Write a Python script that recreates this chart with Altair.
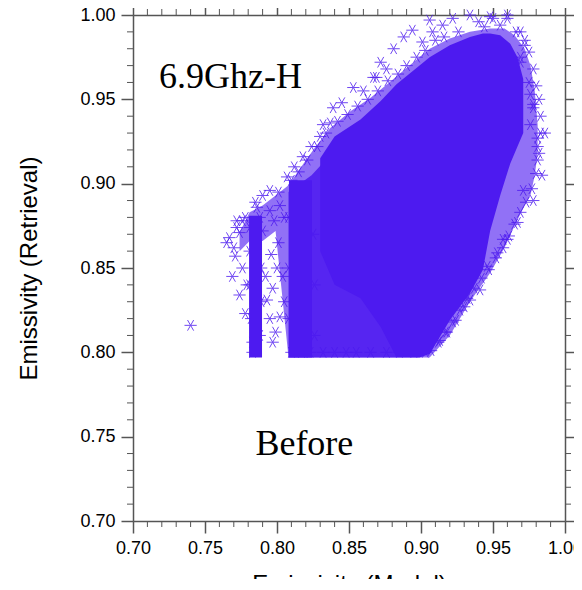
import altair as alt
import pandas as pd

PURPLE = "#4D1AF0"
AXC = "#555555"

# axis ticks
major_ticks = [0.70, 0.75, 0.80, 0.85, 0.90, 0.95, 1.00]
minor_ticks = [0.71, 0.72, 0.73, 0.74, 0.76, 0.77, 0.78, 0.79, 0.81, 0.82, 0.83, 0.84,
               0.86, 0.87, 0.88, 0.89, 0.91, 0.92, 0.93, 0.94, 0.96, 0.97, 0.98, 0.99]

# outer envelope of the point cloud (sparser band of markers)
env_x   = [0.774, 0.781, 0.790, 0.799, 0.808, 0.816, 0.826, 0.837, 0.851, 0.865, 0.878,
           0.892, 0.906, 0.920, 0.934, 0.948, 0.958, 0.965, 0.972, 0.976, 0.979, 0.981]
env_top = [0.871, 0.883, 0.887, 0.893, 0.899, 0.909, 0.921, 0.933, 0.943, 0.951, 0.960,
           0.970, 0.980, 0.986, 0.990, 0.992, 0.992, 0.988, 0.980, 0.970, 0.955, 0.935]
env_bot = [0.860, 0.866, 0.866, 0.872, 0.797, 0.797, 0.797, 0.797, 0.797, 0.797, 0.797,
           0.797, 0.797, 0.810, 0.830, 0.847, 0.862, 0.875, 0.887, 0.893, 0.905, 0.918]

# medium density region (lower left of the cloud)
mid_x   = [0.808, 0.824, 0.837, 0.858, 0.883]
mid_top = [0.895, 0.905, 0.917, 0.932, 0.950]
mid_bot = [0.797, 0.797, 0.797, 0.797, 0.797]

# dense core
core_x   = [0.830, 0.840, 0.858, 0.872, 0.883, 0.899, 0.906, 0.920, 0.934, 0.943,
            0.948, 0.955, 0.962, 0.967, 0.971]
core_top = [0.915, 0.928, 0.938, 0.949, 0.959, 0.970, 0.975, 0.982, 0.987, 0.989,
            0.989, 0.988, 0.983, 0.975, 0.962]
core_bot = [0.860, 0.840, 0.832, 0.815, 0.797, 0.797, 0.799, 0.819, 0.835, 0.849,
            0.872, 0.893, 0.912, 0.922, 0.930]

# the two vertical stripes
stripe_x1  = [0.7806, 0.8083]
stripe_x2  = [0.7896, 0.8243]
stripe_top = [0.881, 0.902]
stripe_bot = [0.797, 0.797]

# individual markers visible around the cloud
star_x = [0.740,
          # left of the stripes
          0.765, 0.769, 0.774, 0.778, 0.783, 0.783, 0.797, 0.795, 0.802, 0.797, 0.793, 0.771, 0.774, 0.767,
          0.772, 0.776, 0.770, 0.779,
          # between the stripes
          0.800, 0.796, 0.804, 0.799, 0.805, 0.792, 0.801,
          # top of the stripes
          0.776, 0.781, 0.788, 0.795, 0.802, 0.790, 0.798, 0.805,
          # stripe edges
          0.781, 0.789, 0.781, 0.789, 0.782, 0.788, 0.808, 0.825, 0.808, 0.826, 0.808, 0.826,
          # upper-left edge
          0.795, 0.807, 0.818, 0.830, 0.837, 0.832, 0.839, 0.853, 0.867, 0.869, 0.872, 0.881, 0.888,
          0.894, 0.901, 0.906, 0.908, 0.785, 0.778, 0.790, 0.812, 0.824, 0.845, 0.860, 0.876,
          0.772, 0.786, 0.801, 0.810, 0.815, 0.821, 0.828, 0.834, 0.842, 0.849, 0.856, 0.863,
          0.870, 0.877, 0.884, 0.890, 0.897, 0.903, 0.910, 0.916, 0.926, 0.944, 0.955,
          # top
          0.922, 0.934, 0.948, 0.960, 0.950, 0.960, 0.969, 0.915, 0.940,
          # right
          0.969, 0.969, 0.976, 0.978, 0.978, 0.976, 0.981, 0.981, 0.981, 0.978, 0.971, 0.967, 0.960,
          0.953, 0.957, 0.946, 0.984, 0.986, 0.975, 0.972,
          0.966, 0.972, 0.975, 0.978, 0.980, 0.982, 0.983, 0.983, 0.982, 0.980, 0.977, 0.973,
          0.969, 0.965, 0.961, 0.957, 0.952, 0.947, 0.942, 0.937,
          # lower right
          0.941, 0.934, 0.924, 0.913, 0.903, 0.930, 0.918, 0.932, 0.927, 0.922, 0.917, 0.912, 0.907,
          # bottom
          0.810, 0.817, 0.823, 0.832, 0.840, 0.848, 0.855, 0.865, 0.876, 0.885, 0.895]
star_y = [0.816,
          0.865, 0.845, 0.834, 0.823, 0.806, 0.800, 0.806, 0.820, 0.821, 0.838, 0.831, 0.857, 0.871, 0.868,
          0.878, 0.850, 0.862, 0.840,
          0.850, 0.858, 0.845, 0.812, 0.830, 0.845, 0.865,
          0.878, 0.874, 0.880, 0.884, 0.887, 0.872, 0.878, 0.880,
          0.860, 0.850, 0.840, 0.830, 0.820, 0.810, 0.880, 0.870, 0.850, 0.840, 0.820, 0.810,
          0.896, 0.904, 0.916, 0.928, 0.936, 0.935, 0.945, 0.957, 0.963, 0.963, 0.972, 0.980, 0.987,
          0.991, 0.984, 0.997, 0.990, 0.889, 0.880, 0.893, 0.910, 0.922, 0.948, 0.955, 0.968,
          0.874, 0.886, 0.895, 0.902, 0.907, 0.914, 0.922, 0.930, 0.937, 0.941, 0.946, 0.950,
          0.955, 0.961, 0.965, 0.970, 0.975, 0.979, 0.985, 0.987, 0.990, 0.993, 0.994,
          0.998, 1.000, 0.999, 1.000, 0.998, 0.998, 0.990, 0.994, 0.996,
          0.972, 0.975, 0.953, 0.947, 0.945, 0.935, 0.927, 0.922, 0.914, 0.890, 0.896, 0.877, 0.867,
          0.859, 0.867, 0.851, 0.905, 0.930, 0.960, 0.982,
          0.990, 0.985, 0.978, 0.968, 0.958, 0.950, 0.940, 0.930, 0.918, 0.906, 0.897, 0.889,
          0.883, 0.876, 0.869, 0.862, 0.856, 0.849, 0.844, 0.838,
          0.837, 0.831, 0.819, 0.807, 0.800, 0.827, 0.812, 0.832, 0.825, 0.818, 0.812, 0.806, 0.801,
          0.800, 0.800, 0.800, 0.800, 0.800, 0.800, 0.800, 0.800, 0.800, 0.800, 0.800]

label_text = ["6.9Ghz-H", "Before"]
label_x = [0.718, 0.819]
label_y = [0.957, 0.739]

env_df = pd.DataFrame({"x": env_x, "top": env_top, "bot": env_bot})
mid_df = pd.DataFrame({"x": mid_x, "top": mid_top, "bot": mid_bot})
core_df = pd.DataFrame({"x": core_x, "top": core_top, "bot": core_bot})
stripe_df = pd.DataFrame({"x1": stripe_x1, "x2": stripe_x2, "top": stripe_top, "bot": stripe_bot})
star_df = pd.DataFrame({"x": star_x, "y": star_y})
minor_df = pd.DataFrame({"v": minor_ticks})

W, H = 432, 506
xs = alt.Scale(domain=[0.70, 1.00], nice=False, zero=False)
ys = alt.Scale(domain=[0.70, 1.00], nice=False, zero=False)

common_axis = dict(values=major_ticks, tickSize=12, tickColor=AXC, tickWidth=1.5,
                   domainColor=AXC, domainWidth=1.5, grid=False)

x_bottom = alt.Axis(orient="bottom", format=".2f", labelFont="Liberation Sans",
                    labelFontSize=18, labelColor="black", labelPadding=6,
                    labelFlush=False, labelOverlap=False,
                    title="Emissivity (Model)", titleFont="Liberation Sans",
                    titleFontSize=24, titleFontWeight="normal", titleColor="black",
                    titleY=51, titleBaseline="top", **common_axis)
y_left = alt.Axis(orient="left", format=".2f", labelFont="Liberation Sans",
                  labelFontSize=18, labelColor="black", labelPadding=6,
                  labelFlush=False, labelOverlap=False,
                  title="Emissivity (Retrieval)", titleFont="Liberation Sans",
                  titleFontSize=24, titleFontWeight="normal", titleColor="black",
                  titleX=-104, titleY=253, titleAlign="center", titleBaseline="middle",
                  **common_axis)
x_top = alt.Axis(orient="top", labels=False, title=None, **common_axis)
y_right = alt.Axis(orient="right", labels=False, title=None, **common_axis)

STAR = "M-1,0L1,0M-0.5,-0.866L0.5,0.866M-0.5,0.866L0.5,-0.866"

env = alt.Chart(env_df).mark_area(color=PURPLE, opacity=0.62).encode(
    x=alt.X("x:Q", scale=xs, axis=x_bottom),
    y=alt.Y("top:Q", scale=ys, axis=y_left),
    y2="bot:Q",
)
mid = alt.Chart(mid_df).mark_area(color=PURPLE, opacity=0.88).encode(
    x=alt.X("x:Q", scale=xs, axis=None),
    y=alt.Y("top:Q", scale=ys, axis=None),
    y2="bot:Q",
)
stars = alt.Chart(star_df).mark_point(shape=STAR, filled=False, size=150, strokeWidth=1,
                                      color=PURPLE, opacity=0.8).encode(
    x=alt.X("x:Q", scale=xs, axis=x_top),
    y=alt.Y("y:Q", scale=ys, axis=y_right),
)
core = alt.Chart(core_df).mark_area(color=PURPLE, opacity=1).encode(
    x=alt.X("x:Q", scale=xs, axis=None),
    y=alt.Y("top:Q", scale=ys, axis=None),
    y2="bot:Q",
)
stripes = alt.Chart(stripe_df).mark_rect(color=PURPLE).encode(
    x=alt.X("x1:Q", scale=xs, axis=None), x2="x2:Q",
    y=alt.Y("top:Q", scale=ys, axis=None), y2="bot:Q",
)

minor_b = alt.Chart(minor_df).mark_rule(color=AXC, strokeWidth=1).encode(
    x=alt.X("v:Q", scale=xs, axis=None), y=alt.value(H), y2=alt.value(H + 6))
minor_t = alt.Chart(minor_df).mark_rule(color=AXC, strokeWidth=1).encode(
    x=alt.X("v:Q", scale=xs, axis=None), y=alt.value(0), y2=alt.value(-6))
minor_l = alt.Chart(minor_df).mark_rule(color=AXC, strokeWidth=1).encode(
    y=alt.Y("v:Q", scale=ys, axis=None), x=alt.value(0), x2=alt.value(-6))
minor_r = alt.Chart(minor_df).mark_rule(color=AXC, strokeWidth=1).encode(
    y=alt.Y("v:Q", scale=ys, axis=None), x=alt.value(W), x2=alt.value(W + 6))

t1 = alt.Chart(pd.DataFrame({"t": [label_text[0]], "x": [label_x[0]], "y": [label_y[0]]})).mark_text(
    font="Liberation Serif", fontSize=36, align="left", baseline="alphabetic", color="black").encode(
    x=alt.X("x:Q", scale=xs, axis=None), y=alt.Y("y:Q", scale=ys, axis=None), text="t:N")
t2 = alt.Chart(pd.DataFrame({"t": [label_text[1]], "x": [label_x[1]], "y": [label_y[1]]})).mark_text(
    font="Liberation Serif", fontSize=36, align="center", baseline="alphabetic", color="black").encode(
    x=alt.X("x:Q", scale=xs, axis=None), y=alt.Y("y:Q", scale=ys, axis=None), text="t:N")

chart = alt.layer(env, mid, stars, core, stripes, minor_b, minor_t, minor_l, minor_r, t1, t2).resolve_axis(
    x="independent", y="independent"
).properties(
    width=W, height=H,
    autosize=alt.AutoSizeParams(type="none"),
    padding={"left": 125, "top": 7, "right": 9, "bottom": 58},
).configure_view(stroke=None).configure(background="white")

chart.save("out.html", embed_options={"renderer": "svg", "actions": False})
